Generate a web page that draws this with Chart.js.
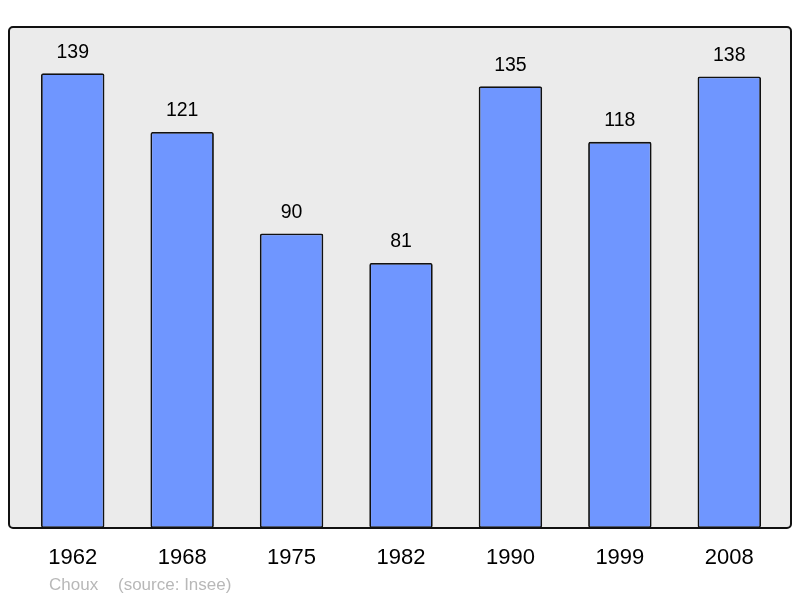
<!DOCTYPE html>
<html><head><meta charset="utf-8">
<script src="https://cdn.jsdelivr.net/npm/chart.js@4/dist/chart.umd.min.js"></script>
<style>html,body{margin:0;padding:0;background:#fff}canvas{display:block}</style>
</head><body>
<canvas id="c" width="800" height="598"></canvas>
<script>
const years = ["1962","1968","1975","1982","1990","1999","2008"];
const population = [139,121,90,81,135,118,138];
const commune = "Choux";
const source = "(source: Insee)";

const decor = {
  id:'decor',
  beforeDraw(chart){
    const ctx = chart.ctx;
    ctx.save();
    ctx.fillStyle='#fff';ctx.fillRect(0,0,800,598);
    ctx.beginPath();
    ctx.roundRect(9,27,782,501,4);
    ctx.fillStyle='#ebebeb';ctx.fill();
    ctx.restore();
  },
  afterDatasetsDraw(chart){
    const ctx = chart.ctx;
    ctx.save();
    ctx.beginPath();
    ctx.roundRect(9,27,782,501,4);
    ctx.lineWidth=2;ctx.strokeStyle='#111';ctx.stroke();
    const meta = chart.getDatasetMeta(0);
    ctx.font='19.5px "Liberation Sans", Arial, sans-serif';
    ctx.fillStyle='#000';ctx.textAlign='center';ctx.textBaseline='middle';
    meta.data.forEach((b,i)=>{ ctx.fillText(String(population[i]), b.x, b.y-21); });
    ctx.font='17px "Liberation Sans", Arial, sans-serif';
    ctx.fillStyle='#b8b8b8';ctx.textAlign='left';ctx.textBaseline='alphabetic';
    ctx.fillText(commune,49,590);
    ctx.fillText(source,118,590);
    ctx.restore();
  }
};

new Chart(document.getElementById('c'),{
  type:'bar',
  data:{labels:years,datasets:[{data:population,backgroundColor:'#6f96ff',borderColor:'#111',borderWidth:1.8,borderSkipped:false,borderRadius:2,barPercentage:0.58,categoryPercentage:1}]},
  options:{
    responsive:false,animation:false,
    layout:{padding:{left:18,right:16,top:27,bottom:0}},
    plugins:{legend:{display:false},tooltip:{enabled:false}},
    scales:{
      x:{grid:{display:false,drawTicks:false},border:{display:false},
         ticks:{color:'#000',font:{family:'"Liberation Sans", Arial, sans-serif',size:22},padding:17,maxRotation:0},
         afterFit(s){s.height=70;}},
      y:{display:false,min:0,max:153.1}
    }
  },
  plugins:[decor]
});
</script>
</body></html>
